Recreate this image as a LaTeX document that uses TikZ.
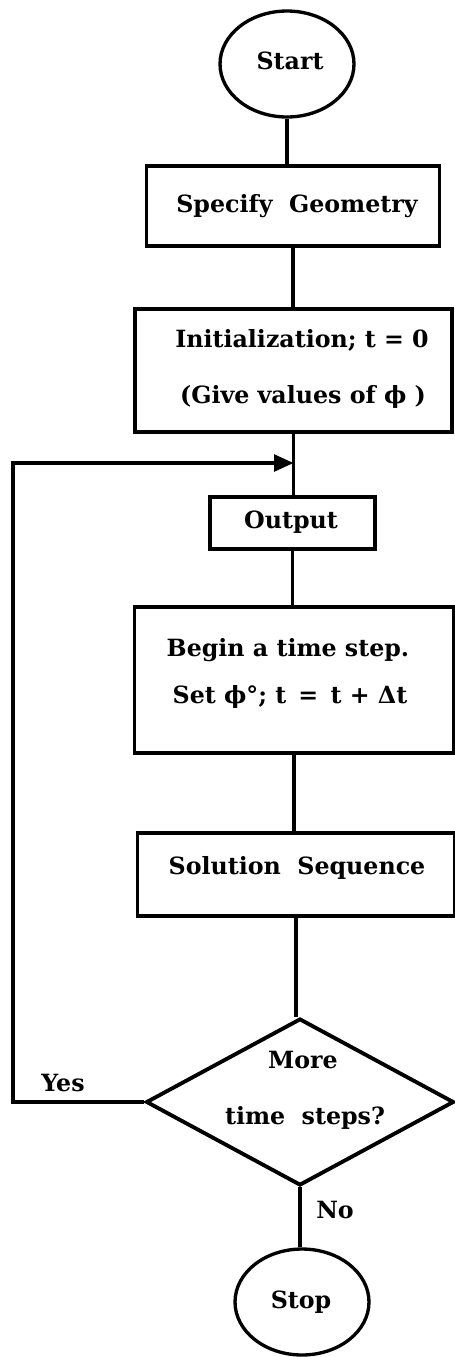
\documentclass[tikz,border=0pt]{standalone}
\usepackage{fontspec}
\setmainfont{DejaVu Serif}
\usetikzlibrary{shapes.geometric,arrows.meta}
\begin{document}
\begin{tikzpicture}[x=0.02cm,y=-0.02cm,
  every node/.style={font=\fontsize{13.5}{16}\selectfont\bfseries, inner sep=0pt},
  line/.style={line width=1.8pt},
  boxnode/.style={draw, line width=1.8pt, rectangle},
  termnode/.style={draw, line width=1.9pt, ellipse, minimum width=2.68cm, minimum height=2.12cm},
  decnode/.style={draw, line width=2.2pt, diamond, minimum width=6.16cm, minimum height=3.34cm},
  lbl/.style={}
]
\useasboundingbox (0,0) rectangle (454,1357);
% nodes
\node[termnode] (Start) at (287,64) {};
\node[lbl] (StartT) at (290,61) {Start};
\node[boxnode, minimum width=5.86cm, minimum height=1.6cm] (Specify) at (293,206) {};
\node[lbl] (SpecifyT) at (297,206) {Specify\ \ Geometry};
\node[boxnode, minimum width=6.34cm, minimum height=2.46cm] (Init) at (293.5,370.5) {};
\node[lbl] (InitT1) at (302,340) {Initialization; t = 0};
\node[lbl] (InitT2) at (303,397) {(Give values of ϕ )};
\node[boxnode, minimum width=3.3cm, minimum height=1.04cm] (Output) at (292.5,523) {};
\node[lbl] (OutputT) at (291,522) {Output};
\node[boxnode, minimum width=6.38cm, minimum height=2.92cm] (Begin) at (294,680) {};
\node[lbl] (BeginT1) at (288,650) {Begin a time step.};
\node[lbl] (BeginT2) at (290,697) {Set ϕ°; t \,=\, t + Δt};
\node[boxnode, minimum width=6.34cm, minimum height=1.66cm] (Sol) at (296,874.5) {};
\node[lbl] (SolT) at (297,868) {Solution\ \ Sequence};
\node[decnode] (Dec) at (300,1102) {};
\node[lbl] (DecT1) at (303,1060) {More};
\node[lbl] (DecT2) at (305,1118) {time\ \ steps?};
\node[termnode] (Stop) at (302,1302) {};
\node[lbl] (StopT) at (301,1302) {Stop};
\node[lbl] (Yes) at (63,1083) {Yes};
\node[lbl] (No) at (335,1210) {No};
\coordinate (loopL) at (13,463);
% connectors
\draw[line] (Start.south) -- (Start.south |- Specify.north);
\draw[line] (Specify.south) -- (Specify.south |- Init.north);
\draw[line] (Init.south) -- (Init.south |- Output.north);
\draw[line] (Output.south) -- (Output.south |- Begin.north);
\draw[line] (Begin.south) -- (Begin.south |- Sol.north);
\draw[line] (Sol.south) -- (Sol.south |- Dec.north);
\draw[line] (Dec.south) -- (Dec.south |- Stop.north);
\draw[line, -{Triangle[length=11pt,width=9.5pt]}] (Dec.west) -- (Dec.west -| loopL) -- (loopL) -- (loopL -| Init.south);
\end{tikzpicture}
\end{document}
